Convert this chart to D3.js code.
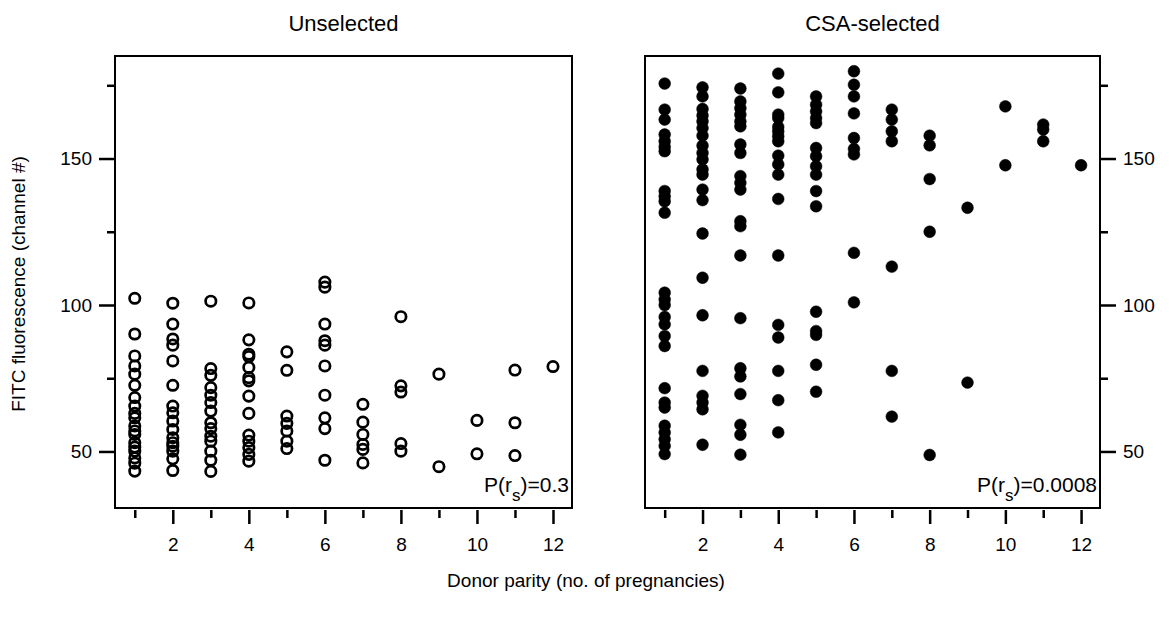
<!DOCTYPE html>
<html lang="en">
<head>
    <meta charset="UTF-8">
    <title>Donor parity vs FITC fluorescence</title>
    <style>
        body { margin: 0; background: #fff; }
        svg text { font-family: "Liberation Sans", Arial, sans-serif; fill: #000; }
    </style>
</head>
<body>
    <script src="https://d3js.org/d3.v7.min.js"></script>
    <script>
        // parity categories (x) and the FITC readings for each one
        const parities = [1, 2, 3, 4, 5, 6, 7, 8, 9, 10, 11, 12];
        const majorX = [2, 4, 6, 8, 10, 12];
        const minorX = [1, 3, 5, 7, 9, 11];
        const majorY = [50, 100, 150];
        const minorY = [75, 125, 175];

        const unselected = [
            [102.3, 90.1, 82.6, 79.2, 76.4, 72.6, 68.4, 65.5, 63, 61.5, 58.7, 57, 55.8, 53, 51.5, 50.1, 47.8, 46, 43.3],
            [100.6, 93.5, 88.4, 86.3, 80.9, 72.6, 65.5, 63.2, 60.4, 57.5, 54.7, 53, 51.8, 50.1, 47.5, 43.5],
            [101.3, 78.3, 76, 71.8, 69.2, 66.7, 63.8, 59.8, 57.8, 55.2, 53.5, 50.1, 47, 43.2],
            [100.7, 88.1, 83.2, 82.4, 78.7, 75.2, 74.1, 68.9, 63, 55.6, 53.5, 51.3, 49, 46.7],
            [84, 77.7, 62.1, 59.6, 57, 53.5, 51],
            [107.8, 106.1, 93.5, 87.8, 86.3, 79.2, 69.2, 61.5, 57.8, 47],
            [66.1, 60, 55.8, 52.4, 50.7, 46.1],
            [96, 72.4, 70.3, 52.7, 50.1],
            [76.4, 44.8],
            [60.6, 49.2],
            [77.8, 59.8, 48.6],
            [79]
        ];

        const csaSelected = [
            [175.6, 166.7, 163.3, 158.2, 155.9, 154, 152.5, 138.9, 137.1, 135.4, 131.5, 104.2, 101.9, 100, 95.9, 93.4, 89.4, 86, 71.6, 66.7, 65, 58.8, 56.5, 54.2, 51.9, 49.1],
            [174.3, 171.2, 166.9, 164.7, 162.7, 160.4, 157.8, 154.4, 151.9, 149.7, 146.3, 144.5, 139.4, 135.8, 124.4, 109.3, 96.5, 77.5, 69, 66.7, 64.4, 52.3],
            [173.9, 169.5, 167.2, 165, 162.7, 161, 154.8, 151.9, 144, 141.7, 139.4, 128.6, 126.9, 116.9, 95.5, 78.4, 75.6, 69.6, 59.1, 55.7, 48.9],
            [179, 172.6, 165, 163.8, 160.8, 159.3, 157.6, 155.9, 151, 148, 144.5, 136.2, 116.9, 93.2, 88.9, 77.5, 67.5, 56.5],
            [171.2, 168.4, 166.1, 163.8, 162.1, 153.6, 150.8, 147.4, 144.5, 138.9, 133.7, 97.7, 91.1, 89.8, 79.6, 70.4],
            [179.8, 175.2, 171.2, 165.4, 157, 153.3, 151.4, 117.8, 100.9],
            [166.7, 163.3, 159.3, 155.9, 113.1, 77.5, 61.9],
            [157.8, 154.5, 143, 125, 48.8],
            [133.2, 73.5],
            [167.8, 147.7],
            [161.6, 159.9, 155.9],
            [147.7]
        ];

        const W = 1169, H = 618;
        const plotTop = 56, plotBottom = 508;

        const svg = d3.select('body').append('svg')
            .attr('width', W)
            .attr('height', H);

        const y = d3.scaleLinear().domain([30.7, 185]).range([plotBottom, plotTop]);

        function flatten(groups) {
            const pts = [];
            groups.forEach((vals, i) => vals.forEach(v => pts.push({ p: parities[i], v: v })));
            return pts;
        }

        function panel(opts) {
            const x = d3.scaleLinear().domain([0.48, 12.5]).range([opts.left, opts.right]);
            const g = svg.append('g');

            // frame
            g.append('rect')
                .attr('x', opts.left).attr('y', plotTop)
                .attr('width', opts.right - opts.left).attr('height', plotBottom - plotTop)
                .attr('fill', 'none').attr('stroke', '#000').attr('stroke-width', 2);

            // title
            g.append('text')
                .attr('x', (opts.left + opts.right) / 2).attr('y', 31)
                .attr('text-anchor', 'middle')
                .style('font-size', '22px')
                .text(opts.title);

            // x axis, major + minor
            const xMajor = g.append('g').attr('transform', `translate(0,${plotBottom + 2})`)
                .call(d3.axisBottom(x).tickValues(majorX).tickSize(14).tickPadding(14).tickFormat(d3.format('d')));
            const xMinor = g.append('g').attr('transform', `translate(0,${plotBottom + 2})`)
                .call(d3.axisBottom(x).tickValues(minorX).tickSize(8).tickFormat(''));

            // y axis
            const yAx = opts.side === 'left' ? d3.axisLeft : d3.axisRight;
            const yX = opts.side === 'left' ? opts.left : opts.right;
            const yMajor = g.append('g').attr('transform', `translate(${yX},0)`)
                .call(yAx(y).tickValues(majorY).tickSize(16).tickPadding(7));
            const yMinor = g.append('g').attr('transform', `translate(${yX},0)`)
                .call(yAx(y).tickValues(minorY).tickSize(8).tickFormat(''));

            [xMajor, xMinor, yMajor, yMinor].forEach(a => {
                a.select('.domain').remove();
                a.selectAll('line').attr('stroke', '#000').attr('stroke-width', 2.5);
                a.selectAll('text').style('font-size', '19px').attr('fill', '#000')
                    .style('font-family', '"Liberation Sans", Arial, sans-serif');
            });

            // points
            const pts = flatten(opts.data);
            g.selectAll('circle.pt').data(pts).enter().append('circle')
                .attr('class', 'pt')
                .attr('cx', d => x(d.p))
                .attr('cy', d => y(d.v))
                .attr('r', opts.filled ? 5.9 : 5.2)
                .attr('fill', opts.filled ? '#000' : 'none')
                .attr('stroke', '#000')
                .attr('stroke-width', opts.filled ? 0.5 : 2.7);

            // correlation note
            const t = g.append('text')
                .attr('x', opts.right - 3).attr('y', plotBottom - 16)
                .attr('text-anchor', 'end')
                .style('font-size', '21px');
            t.append('tspan').text('P(r');
            t.append('tspan').attr('dy', 9).style('font-size', '17px').text('s');
            t.append('tspan').attr('dy', -9).text(')=' + opts.p);
        }

        panel({ left: 115, right: 572, side: 'left', title: 'Unselected', data: unselected, filled: false, p: '0.3' });
        panel({ left: 645, right: 1100, side: 'right', title: 'CSA-selected', data: csaSelected, filled: true, p: '0.0008' });

        svg.append('text')
            .attr('transform', 'translate(25,284) rotate(-90)')
            .attr('text-anchor', 'middle')
            .style('font-size', '19px')
            .text('FITC fluorescence (channel #)');

        svg.append('text')
            .attr('x', 586).attr('y', 587)
            .attr('text-anchor', 'middle')
            .style('font-size', '19px')
            .text('Donor parity (no. of pregnancies)');
    </script>
</body>
</html>
